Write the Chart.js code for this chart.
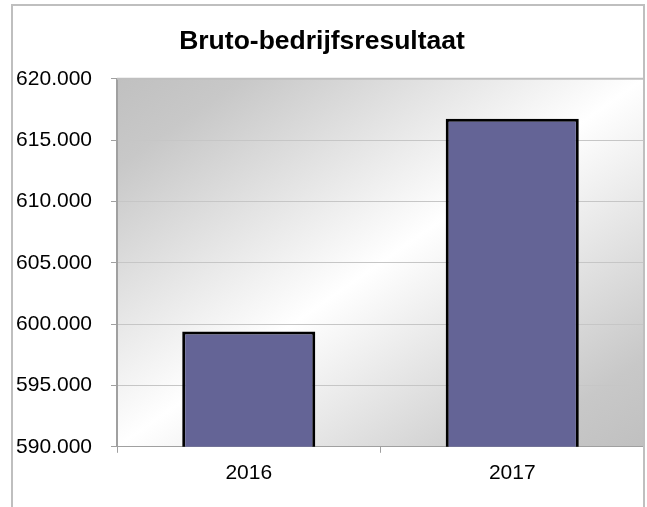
<!DOCTYPE html>
<html>
<head>
<meta charset="utf-8">
<title>Bruto-bedrijfsresultaat</title>
<script src="https://cdn.jsdelivr.net/npm/chart.js@4.4.1/dist/chart.umd.min.js"></script>
<style>
  html, body { margin: 0; padding: 0; background: #fff; overflow: hidden; }
  #grafiek { display: block; }
</style>
</head>
<body>
<canvas id="grafiek" width="647" height="507"></canvas>
<script>
// gegevens
const jaren = ['2016', '2017'];
const resultaat = [599400, 616750];
const yMin = 590000;
const yMax = 620000;
const yStap = 5000;

const lettertype = "'Liberation Sans', Arial, sans-serif";
const randGrijs = '#bfbfbf';
const asGrijs = '#a0a0a0';

// 620000 -> "620.000"
function nlGetal(v) {
    return String(Math.round(v)).replace(/\B(?=(\d{3})+(?!\d))/g, '.');
}

// verloop achter het plotgebied + kader rond de grafiek
const achtergrond = {
    id: 'achtergrond',
    beforeDraw(chart) {
        const { ctx, chartArea: a } = chart;
        const w = a.right - a.left;
        const h = a.bottom - a.top;
        const s = 2 * w * h / (w * w + h * h);
        const g = ctx.createLinearGradient(a.left, a.top, a.left + s * h, a.top + s * w);
        g.addColorStop(0, '#c0c0c0');
        g.addColorStop(0.12, '#c8c8c8');
        g.addColorStop(0.5, '#ffffff');
        g.addColorStop(0.88, '#c8c8c8');
        g.addColorStop(1, '#c0c0c0');
        ctx.save();
        ctx.fillStyle = g;
        ctx.fillRect(a.left, a.top, w, h);
        ctx.restore();
    },
    afterDraw(chart) {
        const { ctx, chartArea: a } = chart;
        ctx.save();
        ctx.strokeStyle = randGrijs;
        ctx.lineWidth = 2;
        ctx.beginPath();
        ctx.moveTo(12, 507);
        ctx.lineTo(12, 5);
        ctx.lineTo(644, 5);
        ctx.lineTo(644, 507);
        ctx.stroke();
        ctx.beginPath();
        ctx.moveTo(a.left, a.top);
        ctx.lineTo(a.right, a.top);
        ctx.stroke();
        ctx.restore();
    }
};

new Chart(document.getElementById('grafiek'), {
    type: 'bar',
    data: {
        labels: jaren,
        datasets: [{
            label: 'Bruto-bedrijfsresultaat',
            data: resultaat,
            backgroundColor: '#646496',
            borderColor: '#000000',
            borderWidth: 3,
            borderSkipped: false,
            categoryPercentage: 1,
            barPercentage: 0.505
        }]
    },
    options: {
        responsive: false,
        animation: false,
        devicePixelRatio: 1,
        layout: { padding: { left: 0, right: 3, top: 0, bottom: 13 } },
        plugins: {
            legend: { display: false },
            tooltip: { enabled: false },
            title: {
                display: true,
                text: 'Bruto-bedrijfsresultaat',
                color: '#000',
                font: { family: lettertype, size: 26.5, weight: 'bold' },
                padding: { top: 26, bottom: 21 }
            }
        },
        scales: {
            x: {
                grid: {
                    offset: true,
                    drawOnChartArea: false,
                    drawTicks: true,
                    tickLength: 6,
                    tickColor: asGrijs
                },
                border: { color: asGrijs, width: 1 },
                ticks: {
                    color: '#000',
                    padding: 8,
                    font: { family: lettertype, size: 21 }
                }
            },
            y: {
                min: yMin,
                max: yMax,
                afterFit(scale) { scale.width = 117; },
                grid: {
                    color: '#c6c6c6',
                    tickColor: asGrijs,
                    tickLength: 6
                },
                border: { color: asGrijs, width: 2 },
                ticks: {
                    stepSize: yStap,
                    color: '#000',
                    padding: 19,
                    font: { family: lettertype, size: 21 },
                    callback: (v) => nlGetal(v)
                }
            }
        }
    },
    plugins: [achtergrond]
});
</script>
</body>
</html>
